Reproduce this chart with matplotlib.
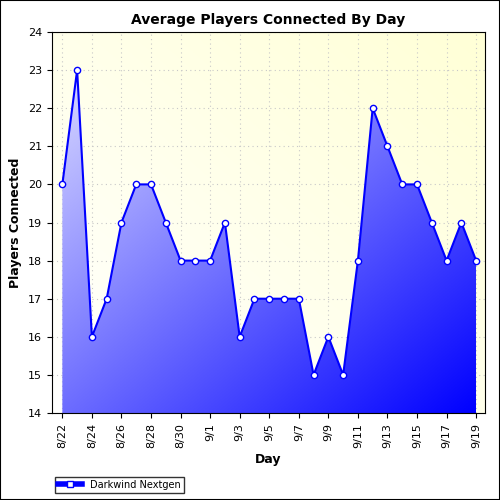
import matplotlib
matplotlib.use("Agg")
import matplotlib.pyplot as plt
import numpy as np
from matplotlib.patches import Polygon, Rectangle
from matplotlib.lines import Line2D

days = ["8/22","8/23","8/24","8/25","8/26","8/27","8/28","8/29","8/30","8/31",
        "9/1","9/2","9/3","9/4","9/5","9/6","9/7","9/8","9/9","9/10",
        "9/11","9/12","9/13","9/14","9/15","9/16","9/17","9/18","9/19"]
players = [20,23,16,17,19,20,20,19,18,18,18,19,16,17,17,17,17,15,16,15,18,22,21,20,20,19,18,19,18]

fig = plt.figure(figsize=(5,5), dpi=100)
fig.patch.set_facecolor("white")
fig.add_artist(Rectangle((0,0),1,1,transform=fig.transFigure,fill=False,edgecolor="black",lw=1.5))
ax = fig.add_axes([0.104, 0.174, 0.866, 0.762])
n = len(days)
x = np.arange(n)
xl = (-0.7, n-1+0.6)
ax.set_xlim(*xl)
ax.set_ylim(14, 24)

gx, gy = np.meshgrid(np.linspace(0,1,200), np.linspace(0,1,200))
t = (gx+gy)/2
bg = np.zeros((200,200,3))
top = np.array([1,1,0.84]); bot = np.array([1,1,1])
for i in range(3):
    bg[...,i] = bot[i] + (top[i]-bot[i])*t
ax.imshow(bg, extent=[xl[0], xl[1], 14, 24], origin="lower", aspect="auto", zorder=0)

ax.grid(True, color="#c8c8c8", linestyle=(0,(1,3)), lw=0.8, zorder=1)
ax.set_yticks(range(14,25))
ax.set_xticks(x[::2])
ax.set_xticklabels(days[::2], rotation=90, fontsize=8)
ax.tick_params(axis="y", labelsize=8)

t2 = (gx + (1-gy))/2
fg = np.zeros((200,200,3))
c1 = np.array([0.85,0.85,1.0]); c2 = np.array([0.0,0.0,1.0])
for i in range(3):
    fg[...,i] = c1[i] + (c2[i]-c1[i])*t2
im = ax.imshow(fg, extent=[0, n-1, 14, 23], origin="lower", aspect="auto", zorder=2)
poly = Polygon(list(zip(x, players)) + [(n-1,14),(0,14)], closed=True, transform=ax.transData, facecolor="none", edgecolor="none")
ax.add_patch(poly)
im.set_clip_path(poly)
ax.set_xlim(*xl)

ax.plot(x, players, color="#0000ff", lw=1.5, marker="o", markersize=4.5,
        markerfacecolor="white", markeredgecolor="#0000ff", markeredgewidth=1, zorder=3)

ax.set_title("Average Players Connected By Day", fontsize=10, fontweight="bold")
ax.set_xlabel("Day", fontsize=9, fontweight="bold")
ax.set_ylabel("Players Connected", fontsize=9, fontweight="bold")

h = Line2D([], [], color="#0000ff", lw=4, marker="s", markersize=4.5, markerfacecolor="white", markeredgecolor="#0000ff")
leg = fig.legend([h], ["Darkwind Nextgen"], loc="lower left", bbox_to_anchor=(0.1, 0.005),
                 fontsize=7, frameon=True, fancybox=False, edgecolor="black", borderpad=0.3, handlelength=2.5)
fig.savefig("out.png", dpi=100)
